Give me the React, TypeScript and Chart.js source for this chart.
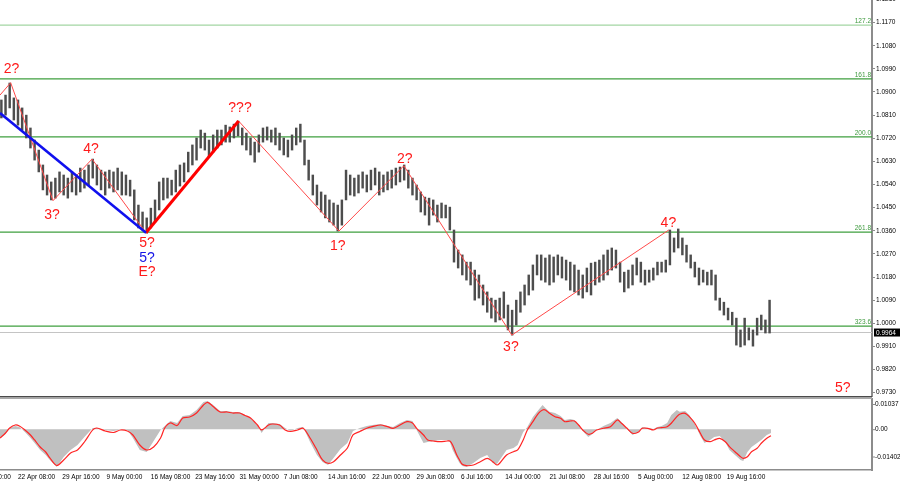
import React, { useEffect, useRef } from "react";
import { Chart, registerables } from "chart.js";
Chart.register(...registerables);

const FONT = "'Liberation Sans', Arial, sans-serif";

// ---- time axis (H4 bar index) ----
const X_MIN = 19;
const X_MAX = 649;
const FIRST_BAR = 20;
const BAR_STEP = 3;
const timeTickPos = [0, 32, 64, 96, 128, 160, 192, 224, 256, 288, 320, 352, 384, 416, 448, 480, 512, 544];
const timeTickLabels = [
  "15 Apr 00:00", "22 Apr 08:00", "29 Apr 16:00", "9 May 00:00", "16 May 08:00", "23 May 16:00",
  "31 May 00:00", "7 Jun 08:00", "14 Jun 16:00", "22 Jun 00:00", "29 Jun 08:00", "6 Jul 16:00",
  "14 Jul 00:00", "21 Jul 08:00", "28 Jul 16:00", "5 Aug 00:00", "12 Aug 08:00", "19 Aug 16:00",
];

// ---- price axis ----
const PRICE_MAX = 1.1258;
const PRICE_MIN = 0.9717;
const priceTicks = [1.126, 1.117, 1.108, 1.099, 1.09, 1.081, 1.072, 1.063, 1.054, 1.045, 1.036, 1.027, 1.018, 1.009, 1.0, 0.991, 0.982, 0.973];
const lastPrice = 0.9964;

// ---- price bars (high / low) ----
const highs = [
  1.0869, 1.0888, 1.0935, 1.0877, 1.0869, 1.0838, 1.081, 1.076, 1.0713, 1.0674,
  1.0616, 1.0577, 1.055, 1.0565, 1.0589, 1.0577, 1.0565, 1.0589, 1.0577, 1.0604,
  1.0596, 1.0616, 1.0639, 1.0616, 1.0596, 1.0589, 1.0596, 1.0589, 1.0604, 1.0589,
  1.0577, 1.0557, 1.0519, 1.046, 1.0433, 1.041, 1.0448, 1.048, 1.055, 1.0565,
  1.0565, 1.0557, 1.0596, 1.0616, 1.0624, 1.0666, 1.0694, 1.0721, 1.0752, 1.074,
  1.0713, 1.0733, 1.0752, 1.0752, 1.0771, 1.0764, 1.0775, 1.0787, 1.076, 1.074,
  1.0721, 1.0705, 1.0733, 1.076, 1.0764, 1.0752, 1.076, 1.074, 1.0721, 1.0713,
  1.0733, 1.076, 1.0775, 1.0713, 1.0635, 1.0577, 1.0538, 1.0511, 1.0499, 1.048,
  1.0468, 1.046, 1.048, 1.0596, 1.0577, 1.0565, 1.0577, 1.0589, 1.0577, 1.0596,
  1.0604, 1.0589, 1.0577, 1.0589, 1.0596, 1.0604, 1.0608, 1.0616, 1.0596, 1.0565,
  1.0538, 1.0511, 1.0491, 1.0487, 1.048, 1.046, 1.0468, 1.046, 1.0452, 1.0363,
  1.0285, 1.0266, 1.0238, 1.0238, 1.0207, 1.0188, 1.0149, 1.0122, 1.0098, 1.009,
  1.0098, 1.0122, 1.0071, 1.0051, 1.009, 1.0122, 1.0149, 1.0188, 1.0227, 1.0266,
  1.0266, 1.0254, 1.0266, 1.0258, 1.0266, 1.0258, 1.0246, 1.0238, 1.0227, 1.0207,
  1.0188, 1.0215, 1.0234, 1.0238, 1.0246, 1.0266, 1.0285, 1.0293, 1.0285, 1.0238,
  1.0199, 1.0207, 1.0227, 1.0254, 1.0238, 1.0207, 1.0207, 1.0215, 1.0238, 1.0238,
  1.0246, 1.0363, 1.0332, 1.0367, 1.0332, 1.0304, 1.0266, 1.0238, 1.0215, 1.0207,
  1.0199, 1.0207, 1.0188, 1.0098, 1.0082, 1.0059, 1.0043, 1.002, 0.9974, 1.002,
  0.9982, 0.9974, 1.002, 1.0032, 1.0013, 1.009,
];
const lows = [
  1.0799, 1.081, 1.0838, 1.0791, 1.0771, 1.0752, 1.0721, 1.0682, 1.0635, 1.0589,
  1.0519, 1.0499, 1.048, 1.0487, 1.0511, 1.0499, 1.0487, 1.0511, 1.0499, 1.0511,
  1.0526, 1.0538, 1.0565, 1.0538, 1.0519, 1.0499, 1.0526, 1.0511, 1.0519, 1.0499,
  1.0499, 1.0495, 1.0402, 1.0371, 1.0363, 1.0351, 1.0371, 1.0394, 1.0441, 1.048,
  1.0487, 1.0499, 1.0511, 1.0534, 1.055, 1.0589, 1.0616, 1.0635, 1.0682, 1.0674,
  1.0647, 1.0666, 1.0682, 1.0694, 1.0705, 1.0705, 1.0721, 1.0729, 1.0694, 1.0674,
  1.0655, 1.0627, 1.0666, 1.0705, 1.0713, 1.0705, 1.0694, 1.0674, 1.0655, 1.0647,
  1.0674, 1.0694, 1.0705, 1.0616, 1.0557, 1.0499, 1.046, 1.0433, 1.041, 1.0394,
  1.0382, 1.0359, 1.0382, 1.048, 1.0499, 1.0495, 1.0507, 1.0526, 1.0511, 1.0519,
  1.0538, 1.0499, 1.0511, 1.0519, 1.0526, 1.0538, 1.055, 1.0557, 1.0526, 1.0499,
  1.048, 1.0433, 1.0421, 1.0382, 1.0421, 1.0394, 1.041, 1.041, 1.0363, 1.0238,
  1.0215, 1.0188, 1.0168, 1.0149, 1.009, 1.0098, 1.0071, 1.0043, 1.002, 1.0005,
  1.0013, 1.002, 0.9974, 0.9954, 0.9993, 1.0043, 1.0071, 1.011, 1.0129, 1.0188,
  1.0168, 1.016, 1.0149, 1.016, 1.0188, 1.0176, 1.0168, 1.0129, 1.0122, 1.011,
  1.0098, 1.0122, 1.011, 1.0149, 1.016, 1.0168, 1.0188, 1.0207, 1.0215, 1.016,
  1.0122, 1.0137, 1.0149, 1.0188, 1.016, 1.0149, 1.016, 1.0168, 1.0188, 1.0199,
  1.0199, 1.0227, 1.0277, 1.0293, 1.0266, 1.0238, 1.0215, 1.018, 1.0149, 1.016,
  1.0149, 1.0149, 1.009, 1.0051, 1.0032, 1.0013, 0.9993, 0.9915, 0.9908, 0.9915,
  0.9935, 0.9911, 0.9954, 0.9974, 0.9962, 0.9962,
];

// ---- Fibonacci levels ----
const fiboLevels = [1.116, 1.0951, 1.0725, 1.0355, 0.9989];
const fiboNames = ["127.2", "161.8", "200.0", "261.8", "323.6"];

// ---- wave mark-up ----
const zigT = [19, 26.7, 57.3, 85.5, 124.5, 191.4, 263.9, 310.8, 388.8, 502.2];
const zigP = [1.0888, 1.0936, 1.0477, 1.0639, 1.0352, 1.0787, 1.0359, 1.0613, 0.9954, 1.0363];
const boldRedT = [124.5, 191.4];
const boldRedP = [1.0352, 1.0787];
const blueT = [19, 124.5];
const blueP = [1.0818, 1.0352];

const waveText = ["2?", "3?", "4?", "5?", "5?", "E?", "???", "1?", "2?", "3?", "4?", "5?"];
const waveT = [27.3, 56.6, 84.7, 125.2, 125.2, 125.2, 192.4, 263.1, 311.5, 388.1, 501.9, 627.9];
const waveP = [1.0988, 1.0421, 1.0676, 1.0312, 1.0254, 1.0199, 1.0838, 1.0301, 1.0639, 0.9908, 1.039, 0.9748];
const waveColor = ["red", "red", "red", "red", "blue", "red", "red", "red", "red", "red", "red", "red"];

// ---- oscillator ----
const OSC_MAX = 0.01037;
const OSC_MIN = -0.01402;
const oscT = [
  19, 23, 26, 30, 33, 37, 41, 44, 48, 52,
  55, 60, 65, 70, 75, 80, 86, 89, 95, 101,
  106, 111, 115, 120, 125, 130, 135, 138, 142, 147,
  151, 156, 161, 166, 169, 173, 178, 183, 187, 192,
  196, 200, 205, 208, 213, 216, 221, 225, 229, 234,
  238, 243, 248, 252, 256, 260, 265, 270, 274, 279,
  284, 288, 294, 299, 303, 308, 313, 317, 320, 325,
  328, 332, 337, 342, 344, 346, 349, 351, 353, 356,
  361, 366, 371, 375, 378, 380, 385, 390, 393, 397,
  400, 404, 408, 411, 413, 416, 420, 424, 427, 431,
  434, 437, 440, 444, 447, 450, 455, 460, 465, 468,
  472, 476, 480, 483, 487, 491, 494, 497, 501, 504,
  508, 510, 514, 517, 521, 525, 528, 532, 535, 539,
  543, 546, 550, 554, 556, 559, 562, 566, 569, 573,
  576,
];
const oscHist = [
  -0.00302, -0.00165, 0.00041, 0.0011, 0.00076, -0.00096, -0.00302, -0.00474, -0.00714, -0.00886,
  -0.01058, -0.01298, -0.00955, -0.00714, -0.00543, -0.00268, 0.00041, 0.00041, -0.00027, -0.00062,
  -0.0001, -0.00027, -0.00302, -0.00714, -0.00783, -0.00405, -0.00027, 0.0011, 0.00282, 0.00213,
  0.00453, 0.00488, 0.0066, 0.00934, 0.00969, 0.00831, 0.00625, 0.00625, 0.00591, 0.00591,
  0.00488, 0.00385, 0.00144, -0.00131, 0.00213, 0.00213, 0.00179, 0.00041, -0.00062, 0.00041,
  0.00076, -0.0044, -0.00886, -0.01127, -0.0123, -0.00989, -0.0068, -0.00474, -0.00062, 0.00041,
  0.0011, 0.00144, 0.00179, 0.0011, 0.00076, 0.00213, 0.00316, 0.00282, -0.00027, -0.00474,
  -0.0044, -0.00405, -0.00371, -0.00371, -0.0044, -0.00714, -0.00989, -0.01161, -0.01264, -0.01298,
  -0.01161, -0.00989, -0.00886, -0.01161, -0.01195, -0.01058, -0.00714, -0.00646, -0.00543, -0.00096,
  0.00076, 0.00419, 0.0066, 0.00831, 0.00728, 0.00601, 0.00556, 0.00453, 0.00316, 0.0035,
  0.00316, 0.00179, -0.00062, -0.00268, -0.00165, -0.00027, 0.0011, 0.00213, 0.00385, 0.00247,
  0.00007, -0.00199, -0.00096, 0.00076, 0.00041, 0.00007, 0.00076, 0.0011, 0.00213, 0.00488,
  0.0066, 0.00601, 0.00625, 0.00488, 0.00179, -0.00234, -0.00474, -0.00371, -0.00268, -0.00234,
  -0.0044, -0.00714, -0.00886, -0.01058, -0.01092, -0.00783, -0.00611, -0.00474, -0.00371, -0.00199,
  -0.00131,
];
const oscSignal = [
  -0.00302, -0.00131, 0.00041, 0.00144, 0.0011, -0.00027, -0.00199, -0.00371, -0.00611, -0.00783,
  -0.00989, -0.01247, -0.01058, -0.00818, -0.00714, -0.0044, -0.00027, 0.00041, -0.00062, -0.00113,
  -0.00027, -0.00062, -0.00199, -0.00543, -0.00714, -0.00611, -0.00302, 0.00041, 0.00213, 0.00127,
  0.00385, 0.00419, 0.00556, 0.00831, 0.00924, 0.0078, 0.00591, 0.00591, 0.00556, 0.00556,
  0.00471, 0.00385, 0.00144, -0.00027, 0.00144, 0.00179, 0.00144, -0.00027, -0.00079, -0.00027,
  0.00031, -0.00302, -0.00714, -0.01058, -0.01171, -0.01116, -0.00886, -0.00646, -0.00199, -0.00079,
  0.00031, 0.00086, 0.00144, 0.00086, 0.00031, 0.00144, 0.00258, 0.00213, 0.00031, -0.00199,
  -0.00371, -0.00405, -0.00429, -0.00405, -0.00405, -0.00543, -0.00886, -0.01058, -0.01206, -0.01254,
  -0.0123, -0.01116, -0.01, -0.01116, -0.0123, -0.01171, -0.00886, -0.00773, -0.00714, -0.00371,
  -0.00027, 0.00258, 0.00546, 0.0066, 0.0066, 0.00546, 0.00429, 0.00374, 0.00258, 0.00282,
  0.00282, 0.00144, -0.00027, -0.00175, -0.00141, -0.00027, 0.00031, 0.00086, 0.00316, 0.00203,
  0.00031, -0.00141, -0.00106, 0.00031, 0.00031, -0.00027, 0.00041, 0.00052, 0.00086, 0.00203,
  0.00429, 0.00512, 0.00546, 0.00429, 0.00203, -0.00141, -0.00371, -0.00429, -0.00371, -0.00313,
  -0.00429, -0.00601, -0.00773, -0.00945, -0.01, -0.00945, -0.00773, -0.00656, -0.00484, -0.00313,
  -0.00223,
];
const oscLabels = ["0.01037", "0.00", "-0.01402"];

const COLORS = {
  red: "#ff1a1a",
  blue: "#1414e6",
  fibo: "#3f9f3f",
  fiboTop: "#a3d6a3",
  fiboText: "#3f9a3f",
  bars: "#4d4d4d",
  axis: "#8c8c8c",
};

const AXIS_W = 28;

export default function App() {
  const mainRef = useRef<HTMLCanvasElement>(null);
  const oscRef = useRef<HTMLCanvasElement>(null);

  useEffect(() => {
    const lineDs = (xs: number[], ys: number[], color: string, width: number, order: number) => ({
      type: "line" as const,
      data: xs.map((x, i) => ({ x, y: ys[i] })),
      borderColor: color,
      borderWidth: width,
      pointRadius: 0,
      fill: false,
      tension: 0,
      order,
    });

    const mainOverlay = {
      id: "mainOverlay",
      afterDatasetsDraw(chart: any) {
        const { ctx, chartArea, scales } = chart;
        const x = scales.x;
        const y = scales.y;
        ctx.save();
        ctx.font = `6.5px ${FONT}`;
        ctx.textAlign = "right";
        ctx.textBaseline = "bottom";
        fiboLevels.forEach((lv, i) => {
          ctx.fillStyle = COLORS.fiboText;
          ctx.fillText(fiboNames[i], chartArea.right - 1, y.getPixelForValue(lv) - 0.5);
        });
        ctx.font = `14px ${FONT}`;
        ctx.textAlign = "center";
        ctx.textBaseline = "middle";
        waveText.forEach((t, i) => {
          ctx.fillStyle = waveColor[i] === "blue" ? COLORS.blue : COLORS.red;
          ctx.fillText(t, x.getPixelForValue(waveT[i]), y.getPixelForValue(waveP[i]));
        });
        // panel bottom separator
        ctx.strokeStyle = "#4a4a4a";
        ctx.lineWidth = 1.5;
        ctx.beginPath();
        ctx.moveTo(0, chartArea.bottom + 0.75);
        ctx.lineTo(chartArea.right, chartArea.bottom + 0.75);
        ctx.stroke();
        ctx.restore();
      },
      afterDraw(chart: any) {
        const { ctx, chartArea, scales } = chart;
        const py = scales.y.getPixelForValue(lastPrice);
        ctx.save();
        ctx.fillStyle = "#000";
        ctx.fillRect(chartArea.right + 2, py - 4, 900 - chartArea.right - 2, 8);
        ctx.fillStyle = "#fff";
        ctx.font = `6.5px ${FONT}`;
        ctx.textAlign = "left";
        ctx.textBaseline = "middle";
        ctx.fillText(lastPrice.toFixed(4), chartArea.right + 4, py + 0.5);
        ctx.restore();
      },
    };

    const main = new Chart(mainRef.current!, {
      type: "bar",
      data: {
        datasets: [
          ...fiboLevels.map((lv, i) =>
            lineDs([X_MIN, X_MAX], [lv, lv], i === 0 ? COLORS.fiboTop : COLORS.fibo, 1.3, 20)
          ),
          lineDs([X_MIN, X_MAX], [lastPrice, lastPrice], "#c4c4c4", 1, 19),
          {
            type: "bar" as const,
            data: highs.map((h, i) => ({ x: FIRST_BAR + i * BAR_STEP, y: [lows[i], h] })),
            backgroundColor: COLORS.bars,
            borderWidth: 0,
            barThickness: 1.8,
            order: 10,
          },
          lineDs(zigT, zigP, "#ff4a4a", 1, 3),
          lineDs(boldRedT, boldRedP, "#ff0000", 3, 2),
          lineDs(blueT, blueP, "#1010ee", 2.5, 1),
        ] as any,
      },
      options: {
        responsive: false,
        animation: false,
        events: [],
        layout: { padding: { left: 0, right: 0, top: 0, bottom: 2 } },
        plugins: { legend: { display: false }, tooltip: { enabled: false } },
        scales: {
          x: { type: "linear", min: X_MIN, max: X_MAX, display: false, offset: false },
          y: {
            position: "right",
            min: PRICE_MIN,
            max: PRICE_MAX,
            afterBuildTicks: (s: any) => {
              s.ticks = priceTicks.map((v) => ({ value: v }));
            },
            afterFit: (s: any) => {
              s.width = AXIS_W;
              s.paddingTop = 0;
              s.paddingBottom = 0;
            },
            grid: { drawOnChartArea: false, tickLength: 3, color: COLORS.axis },
            border: { display: true, color: COLORS.axis, width: 2 },
            ticks: {
              padding: 1,
              color: "#000",
              font: { size: 6.5, family: FONT },
              callback: (v: any) => Number(v).toFixed(4),
            },
          },
        },
      } as any,
      plugins: [mainOverlay],
    });

    const oscOverlay = {
      id: "oscOverlay",
      afterDraw(chart: any) {
        const { ctx, chartArea, scales } = chart;
        const y = scales.y;
        ctx.save();
        ctx.strokeStyle = "#a8a8a8";
        ctx.lineWidth = 1;
        ctx.beginPath();
        ctx.moveTo(0, chartArea.top - 0.5);
        ctx.lineTo(chartArea.right, chartArea.top - 0.5);
        ctx.stroke();
        ctx.font = `6.5px ${FONT}`;
        ctx.fillStyle = "#000";
        ctx.textAlign = "left";
        ctx.textBaseline = "middle";
        const vals = [OSC_MAX, 0, OSC_MIN];
        const offs = [5.5, 0.5, -13];
        vals.forEach((v, i) => {
          const py = y.getPixelForValue(v) + offs[i];
          ctx.strokeStyle = COLORS.axis;
          ctx.beginPath();
          ctx.moveTo(chartArea.right, py);
          ctx.lineTo(chartArea.right + 3, py);
          ctx.stroke();
          ctx.fillText(oscLabels[i], chartArea.right + 3, py);
        });
        ctx.restore();
      },
    };

    const osc = new Chart(oscRef.current!, {
      type: "line",
      data: {
        datasets: [
          {
            data: oscT.map((t, i) => ({ x: t, y: oscHist[i] })),
            fill: "origin",
            backgroundColor: "#c0c0c0",
            borderColor: "#c0c0c0",
            borderWidth: 0,
            pointRadius: 0,
            tension: 0,
            order: 2,
          },
          {
            data: oscT.map((t, i) => ({ x: t, y: oscSignal[i] })),
            fill: false,
            borderColor: "#ff2424",
            borderWidth: 1.2,
            pointRadius: 0,
            tension: 0.3,
            order: 1,
          },
        ],
      },
      options: {
        responsive: false,
        animation: false,
        events: [],
        layout: { padding: { left: 0, right: 0, top: 1, bottom: 0 } },
        plugins: { legend: { display: false }, tooltip: { enabled: false } },
        scales: {
          x: {
            type: "linear",
            min: X_MIN,
            max: X_MAX,
            position: "bottom",
            afterBuildTicks: (s: any) => {
              s.ticks = timeTickPos.map((v) => ({ value: v }));
            },
            afterFit: (s: any) => {
              s.height = 15;
              s.paddingLeft = 0;
              s.paddingRight = 0;
            },
            grid: { drawOnChartArea: false, drawTicks: false },
            border: { display: true, color: COLORS.axis, width: 1.5 },
            ticks: {
              autoSkip: false,
              maxRotation: 0,
              minRotation: 0,
              align: "start",
              padding: 3,
              color: "#000",
              font: { size: 6.5, family: FONT },
              callback: (_v: any, i: number) => timeTickLabels[i],
            },
          },
          y: {
            position: "right",
            min: OSC_MIN,
            max: OSC_MAX,
            afterFit: (s: any) => {
              s.width = AXIS_W;
              s.paddingTop = 0;
              s.paddingBottom = 0;
            },
            grid: { drawOnChartArea: false, drawTicks: false },
            border: { display: true, color: COLORS.axis, width: 2 },
            ticks: { display: false },
          },
        },
      } as any,
      plugins: [oscOverlay],
    });

    return () => {
      main.destroy();
      osc.destroy();
    };
  }, []);

  return (
    <div style={{ position: "absolute", left: 0, top: 0, width: 900, height: 485, background: "#fff", overflow: "hidden" }}>
      <canvas ref={mainRef} width={900} height={398} style={{ position: "absolute", left: 0, top: 0 }} />
      <canvas ref={oscRef} width={900} height={87} style={{ position: "absolute", left: 0, top: 398 }} />
    </div>
  );
}
